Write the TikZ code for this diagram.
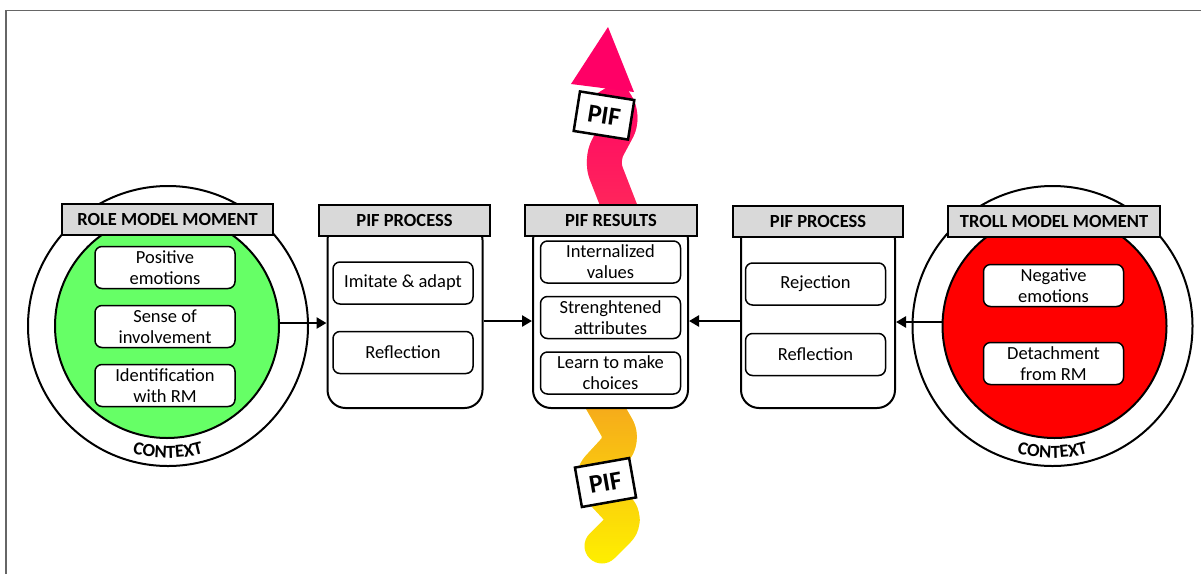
\documentclass[tikz,border=0pt]{standalone}
\usepackage{fontspec}
\setmainfont{Carlito}
\usepackage{xcolor}
\usepackage{tikz}
\usetikzlibrary{shapes, positioning, calc, arrows.meta, decorations.text, fadings}
\definecolor{rmgreen}{HTML}{66FF66}
\definecolor{tmred}{HTML}{FF0000}
\definecolor{headgray}{HTML}{D9D9D9}
\definecolor{pifpink}{HTML}{FF0066}
\definecolor{pifrose}{HTML}{FF2D5A}
\definecolor{piforange}{HTML}{F5A020}
\definecolor{pifyellow}{HTML}{FFF000}
\definecolor{framegray}{HTML}{666666}
\tikzfading[name=fadedown, top color=transparent!0, bottom color=transparent!100]

\begin{document}
\begin{tikzpicture}[
    x = 1pt, y = -1pt, > = {Triangle[length=10pt, width=11pt]},
    context/.style = {circle, draw, line width = 2pt, fill = white, inner sep = 0pt, minimum size = 280pt},
    core/.style = {circle, draw, line width = 2pt, inner sep = 0pt, minimum size = 224pt},
    header/.style = {rectangle, draw, line width = 2pt, fill = headgray, inner sep = 0pt, minimum height = 31pt, font = \bfseries\fontsize{18.5}{21}\selectfont},
    column/.style = {rectangle, draw, line width = 2pt, fill = white, rounded corners = 18pt, inner sep = 0pt, minimum width = 155pt, minimum height = 186pt},
    item/.style = {rectangle, draw, line width = 1.5pt, fill = white, rounded corners = 7pt, inner sep = 0pt, minimum width = 140pt, minimum height = 42pt, align = center, font = \fontsize{18.5}{21}\selectfont},
    flow/.style = {->, line width = 2.5pt},
    wave/.style = {line width = 35pt, line join = round, rounded corners = 14pt},
    tag/.style = {rectangle, draw, line width = 2.5pt, fill = white, inner sep = 0pt, minimum width = 55pt, minimum height = 40pt, font = \bfseries\fontsize{26}{26}\selectfont},
    ]

    \useasboundingbox (0,0) rectangle (1201,574);
    \draw [framegray, line width = 1.5pt] (6,574) -- (6,10.5) -- (1201,10.5);

    % PIF ribbons, drawn first so the columns cover their ends
    \coordinate (up_a) at (622,214);
    \coordinate (up_b) at (601,160);
    \coordinate (up_c) at (624,117);
    \coordinate (up_d) at (606,88);
    \draw [wave, pifrose] (up_a) -- (up_b) -- (up_c) -- (up_d);
    \draw [wave, pifpink, path fading = fadedown] (up_a) -- (up_b) -- (up_c) -- (up_d);
    \fill [pifpink] (571,84) -- (608,27) -- (634,92) -- cycle;

    \coordinate (down_a) at (600,398);
    \coordinate (down_b) at (624,440);
    \coordinate (down_c) at (589,478);
    \coordinate (down_d) at (628,520);
    \coordinate (down_e) at (602,546);
    \draw [wave, pifyellow, line cap = round] (down_a) -- (down_b) -- (down_c) -- (down_d) -- (down_e);
    \draw [wave, piforange, line cap = round, path fading = fadedown] (down_a) -- (down_b) -- (down_c) -- (down_d) -- (down_e);

    % role model moment
    \node [context] (rm_ctx) at (168,326) {};
    \node [core, fill = rmgreen] (rm_core) at (167,326) {};
    \node [header, minimum width = 211pt] (rm_head) at (167.5,219.5) {ROLE MODEL MOMENT};
    \node [item] (rm_pos) at (165,267.5) {Positive\\emotions};
    \node [item] (rm_inv) [below = 15.5pt of rm_pos] {Sense of\\involvement};
    \node [item] (rm_ide) [below = 15.5pt of rm_inv] {Identification\\with RM};

    % PIF process (left)
    \node [column] (pp_in) at (405,315) {};
    \node [header, minimum width = 171pt] (pp_in_head) at (404.5,220) {PIF PROCESS};
    \node [item] (pp_imi) at (403,283) {Imitate \& adapt};
    \node [item] (pp_ref) [below = 26pt of pp_imi] {Reflection};

    % PIF results
    \node [column] (res) at (610.5,315) {};
    \node [header, minimum width = 172pt] (res_head) at (611,220) {PIF RESULTS};
    \node [item] (res_val) at (610.5,262) {Internalized\\values};
    \node [item] (res_att) [below = 12pt of res_val] {Strenghtened\\attributes};
    \node [item] (res_cho) [below = 12pt of res_att] {Learn to make\\choices};

    % PIF process (right)
    \node [column, minimum width = 154pt] (pp_out) at (818,315) {};
    \node [header, minimum width = 170pt] (pp_out_head) at (818,221) {PIF PROCESS};
    \node [item] (pp_rej) at (815.5,284) {Rejection};
    \node [item] (pp_ref2) [below = 27pt of pp_rej] {Reflection};

    % troll model moment
    \node [context] (tm_ctx) at (1052.5,326) {};
    \node [core, fill = tmred] (tm_core) at (1054.5,326) {};
    \node [header, minimum width = 212pt] (tm_head) at (1054,221) {TROLL MODEL MOMENT};
    \node [item] (tm_neg) at (1053.5,285.5) {Negative\\emotions};
    \node [item] (tm_det) [below = 34.5pt of tm_neg] {Detachment\\from RM};

    % context labels
    \path [decorate, decoration = {text along path, text align = center, text = {|\bfseries\fontsize{18.5}{18.5}\selectfont|CONTEXT}}] ([shift = {(230:132pt)}]rm_ctx.center) arc [start angle = 230, end angle = 310, radius = 132pt];
    \path [decorate, decoration = {text along path, text align = center, text = {|\bfseries\fontsize{18.5}{18.5}\selectfont|CONTEXT}}] ([shift = {(230:132pt)}]tm_ctx.center) arc [start angle = 230, end angle = 310, radius = 132pt];

    % arrows
    \draw [flow] ([yshift = 3pt]rm_core.east) -- ([yshift = 3pt]rm_core.east -| pp_in.west);
    \draw [flow] ([yshift = -6pt]pp_in.east) -- ([yshift = -6pt]res.west);
    \draw [flow] ([yshift = -6pt]pp_out.west) -- ([yshift = -6pt]res.east);
    \draw [flow] ([yshift = 4pt]tm_core.west) -- ([yshift = 4pt]tm_core.west -| pp_out.east);

    % PIF tags on the ribbons
    \node [tag, rotate = -9] (pif_up) at (604,115.5) {PIF};
    \node [tag, rotate = 10] (pif_down) at (605.5,482.5) {PIF};
\end{tikzpicture}
\end{document}
